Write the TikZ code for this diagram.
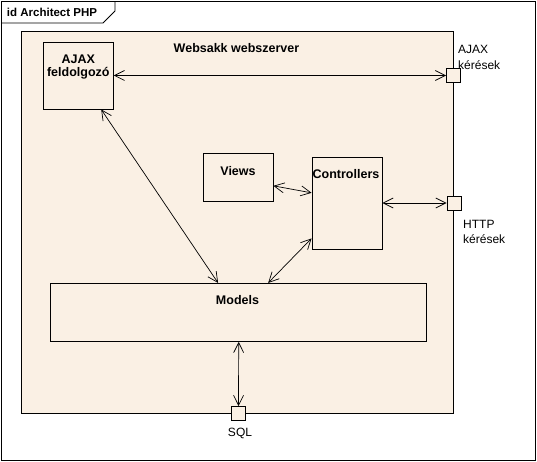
\documentclass[tikz,border=0pt]{standalone}
\usepackage{fontspec}
\setmainfont{Liberation Sans}
\usetikzlibrary{arrows.meta}
\definecolor{serverbg}{RGB}{250,240,228}

\begin{document}
\begin{tikzpicture}[x=1pt, y=-1pt]
\tikzstyle{comp} = [draw, fill=serverbg, inner sep=0pt, line width=0.9pt];
\tikzstyle{port} = [draw, fill=serverbg, inner sep=0pt, minimum size=14pt, line width=0.9pt];
\tikzstyle{boldtxt} = [font=\fontsize{12.5}{13.5}\selectfont\bfseries, align=center, inner sep=0pt];
\tikzstyle{plaintxt} = [font=\fontsize{12}{15.5}\selectfont, align=left, inner sep=0pt];
\tikzstyle{link} = [<->, >={Straight Barb[length=10pt,width=10pt]}, line width=0.7pt];
\useasboundingbox (0,0) rectangle (537,462);
% frame and its tab
\draw[line width=0.9pt] (1.5,1.5) rectangle (535.5,460.5);
\draw[line width=0.9pt] (1.5,23) -- (103,23) -- (115,11) -- (115,1.5);
\node[boldtxt, font=\fontsize{11.5}{13}\selectfont\bfseries] (title) at (52,12.5) {id Architect PHP};
% webserver
\node[comp, minimum width=432pt, minimum height=382pt] (server) at (237,222) {};
\node[boldtxt] (servertxt) at (236.5,48.5) {Websakk webszerver};
% components
\node[comp, minimum width=70pt, minimum height=67pt] (ajax) at (78.3,75.5) {};
\node[boldtxt] (ajaxtxt) at (78.3,67) {AJAX\\feldolgozó};
\node[comp, minimum width=70pt, minimum height=48pt] (views) at (238,177) {};
\node[boldtxt] (viewstxt) at (238,171.5) {Views};
\node[comp, minimum width=70pt, minimum height=92pt] (ctrl) at (347,203) {};
\node[boldtxt] (ctrltxt) at (346,174.5) {Controllers};
\node[comp, minimum width=376pt, minimum height=58pt] (models) at (238.7,312.4) {};
\node[boldtxt] (modelstxt) at (237.5,300.5) {Models};
% ports
\node[port] (ajaxport) at (453.5,75.5) {};
\node[port] (httpport) at (454,203) {};
\node[port] (sqlport) at (238.5,413.5) {};
\node[plaintxt, anchor=west] (ajaxlbl) at (458,57.5) {AJAX\\kérések};
\node[plaintxt, anchor=west] (httplbl) at (463,232) {HTTP\\kérések};
\node[plaintxt] (sqllbl) at (240,433) {SQL};
% connections
\draw[link] (ajax.east) -- (ajaxport.west);
\draw[link] (ajax.-56.1) -- (models.125.4);
\draw[link] (views.-14.4) -- (ctrl.164.1);
\draw[link] (ctrl.east) -- (httpport.west);
\draw[link] (ctrl.-135.8) -- (models.45.8);
\draw[link] (models.south) -- (sqlport.north);
\end{tikzpicture}
\end{document}
